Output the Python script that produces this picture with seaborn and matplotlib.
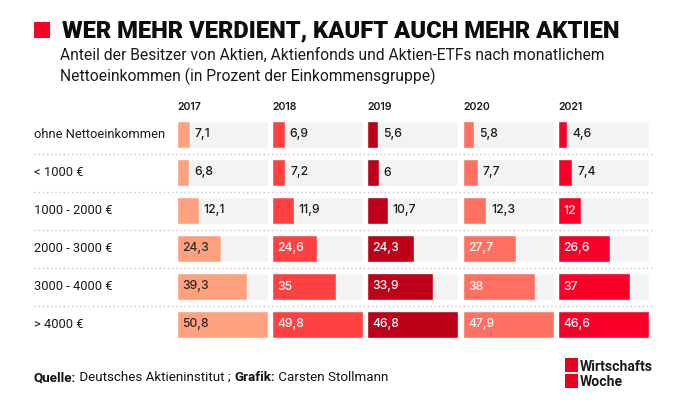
import matplotlib
matplotlib.use("Agg")
import matplotlib.pyplot as plt
import seaborn as sns
import pandas as pd
from matplotlib.transforms import blended_transform_factory
from matplotlib.lines import Line2D
from matplotlib.patches import Rectangle

# ---------------- data ----------------
categories = ["ohne Nettoeinkommen", "< 1000 €", "1000 - 2000 €",
              "2000 - 3000 €", "3000 - 4000 €", "> 4000 €"]
years = ["2017", "2018", "2019", "2020", "2021"]
v2017 = [7.1, 6.8, 12.1, 24.3, 39.3, 50.8]
v2018 = [6.9, 7.2, 11.9, 24.6, 35, 49.8]
v2019 = [5.6, 6, 10.7, 24.3, 33.9, 46.8]
v2020 = [5.8, 7.7, 12.3, 27.7, 38, 47.9]
v2021 = [4.6, 7.4, 12, 26.6, 37, 46.6]
series = [v2017, v2018, v2019, v2020, v2021]

title = "WER MEHR VERDIENT, KAUFT AUCH MEHR AKTIEN"
subtitle1 = "Anteil der Besitzer von Aktien, Aktienfonds und Aktien-ETFs nach monatlichem"
subtitle2 = "Nettoeinkommen (in Prozent der Einkommensgruppe)"

# ---------------- style ----------------
colors = ["#FFA07F", "#FF4141", "#BE0018", "#FF7060", "#FA0028"]
inside_text = ["#2b2b2b", "white", "white", "white", "white"]
bg_gray = "#F3F3F3"
BASE = ["Inter", "Roboto", "DejaVu Sans"]

sns.set_theme(style="white")
plt.rcParams["font.family"] = BASE

W, H = 681, 409
fig = plt.figure(figsize=(W / 100, H / 100), dpi=100)
fig.patch.set_facecolor("white")

def fx(px):
    return px / W

def fy(py):
    return 1 - py / H

renderer = fig.canvas.get_renderer()

def fit(t, target_px):
    w = t.get_window_extent(renderer).width
    t.set_fontsize(t.get_fontsize() * target_px / w)
    return t

# ---------------- header ----------------
fig.add_artist(Rectangle((fx(34), fy(37.5)), fx(16), 15.5 / H,
                         transform=fig.transFigure, color="#FA0028", lw=0))
t = fig.text(fx(62), fy(37), title, fontsize=14, fontweight=900,
             color="#0d0d0d", va="baseline", ha="left",
             family=["Roboto", "DejaVu Sans"])
fit(t, 560)
t = fig.text(fx(60), fy(60), subtitle1, fontsize=11, color="#1a1a1a",
             va="baseline", ha="left", family=["Roboto", "DejaVu Sans"])
fit(t, 540)
fs_sub = t.get_fontsize()
fig.text(fx(60), fy(81), subtitle2, fontsize=fs_sub, color="#1a1a1a",
         va="baseline", ha="left", family=["Roboto", "DejaVu Sans"])

# ---------------- bars ----------------
col_x0 = [177, 272, 367, 463, 558]
col_w = 91
ax_top, ax_bottom = 115.5, 343.5
axes = []
for k, (yr, vals) in enumerate(zip(years, series)):
    ax = fig.add_axes([fx(col_x0[k]), fy(ax_bottom), fx(col_w),
                       (ax_bottom - ax_top) / H])
    vmax = max(vals)
    df = pd.DataFrame({"cat": categories, "val": vals, "full": [vmax] * len(vals)})
    sns.barplot(data=df, x="full", y="cat", color=bg_gray, width=0.71,
                saturation=1, ax=ax, orient="h")
    sns.barplot(data=df, x="val", y="cat", color=colors[k], width=0.71,
                saturation=1, ax=ax, orient="h")
    ax.set_xlim(0, vmax)
    ax.set_ylim(len(categories) - 0.5, -0.5)
    ax.axis("off")
    # value labels
    for i, v in enumerate(vals):
        lab = f"{v:g}".replace(".", ",")
        bar_px = v / vmax * col_w
        tt = ax.annotate(lab, xy=(0, i), xytext=(5, 0), textcoords="offset pixels",
                         ha="left", va="center", fontsize=8.8,
                         color=inside_text[k], fontweight="medium")
        tw = tt.get_window_extent(renderer).width
        if tw + 8 > bar_px:
            tt.remove()
            ax.annotate(lab, xy=(v, i), xytext=(5, 0), textcoords="offset pixels",
                        ha="left", va="center", fontsize=8.8, color="#1a1a1a",
                        fontweight="medium")
    # year header
    fig.text(fx(col_x0[k]), fy(110), yr, fontsize=7.6, fontweight="semibold",
             color="#1a1a1a", va="baseline", ha="left")
    axes.append(ax)

ax0 = axes[0]
tr = blended_transform_factory(fig.transFigure, ax0.transData)
for i, c in enumerate(categories):
    t = ax0.text(fx(34), i, c, transform=tr, ha="left", va="center",
                 fontsize=9, color="#1a1a1a", clip_on=False,
                 family=["Roboto", "DejaVu Sans"])
    if i == 0:
        fit(t, 132)
        fs_row = t.get_fontsize()
    else:
        t.set_fontsize(fs_row)
for i in range(len(categories) - 1):
    ln = Line2D([fx(34), fx(653)], [i + 0.5, i + 0.5], transform=tr,
                color="#c9c9c9", lw=1, linestyle=(0, (1, 2)), clip_on=False)
    ax0.add_artist(ln)

# ---------------- footer ----------------
x = 34
parts = [("Quelle:", "bold"), (" Deutsches Aktieninstitut ; ", "normal"),
         ("Grafik:", "bold"), (" Carsten Stollmann", "normal")]
for txt, wt in parts:
    t = fig.text(fx(x), fy(381), txt, fontsize=9.6, fontweight=wt,
                 color="#111111", va="baseline", ha="left",
                 family=["Roboto", "DejaVu Sans"])
    x += t.get_window_extent(renderer).width

# logo
fig.add_artist(Rectangle((fx(565), fy(372)), fx(13), 14 / H,
                         transform=fig.transFigure, color="#E8001C", lw=0))
fig.add_artist(Rectangle((fx(565), fy(388)), fx(13), 14 / H,
                         transform=fig.transFigure, color="#E8001C", lw=0))
t = fig.text(fx(580), fy(371), "Wirtschafts", fontsize=10, fontweight="bold",
             color="#1a1a1a", va="baseline", ha="left",
             family=["Roboto", "DejaVu Sans"])
fit(t, 73)
fig.text(fx(580), fy(386.5), "Woche", fontsize=t.get_fontsize(), fontweight="bold",
         color="#1a1a1a", va="baseline", ha="left",
         family=["Roboto", "DejaVu Sans"])

fig.savefig("out.png", dpi=100)
